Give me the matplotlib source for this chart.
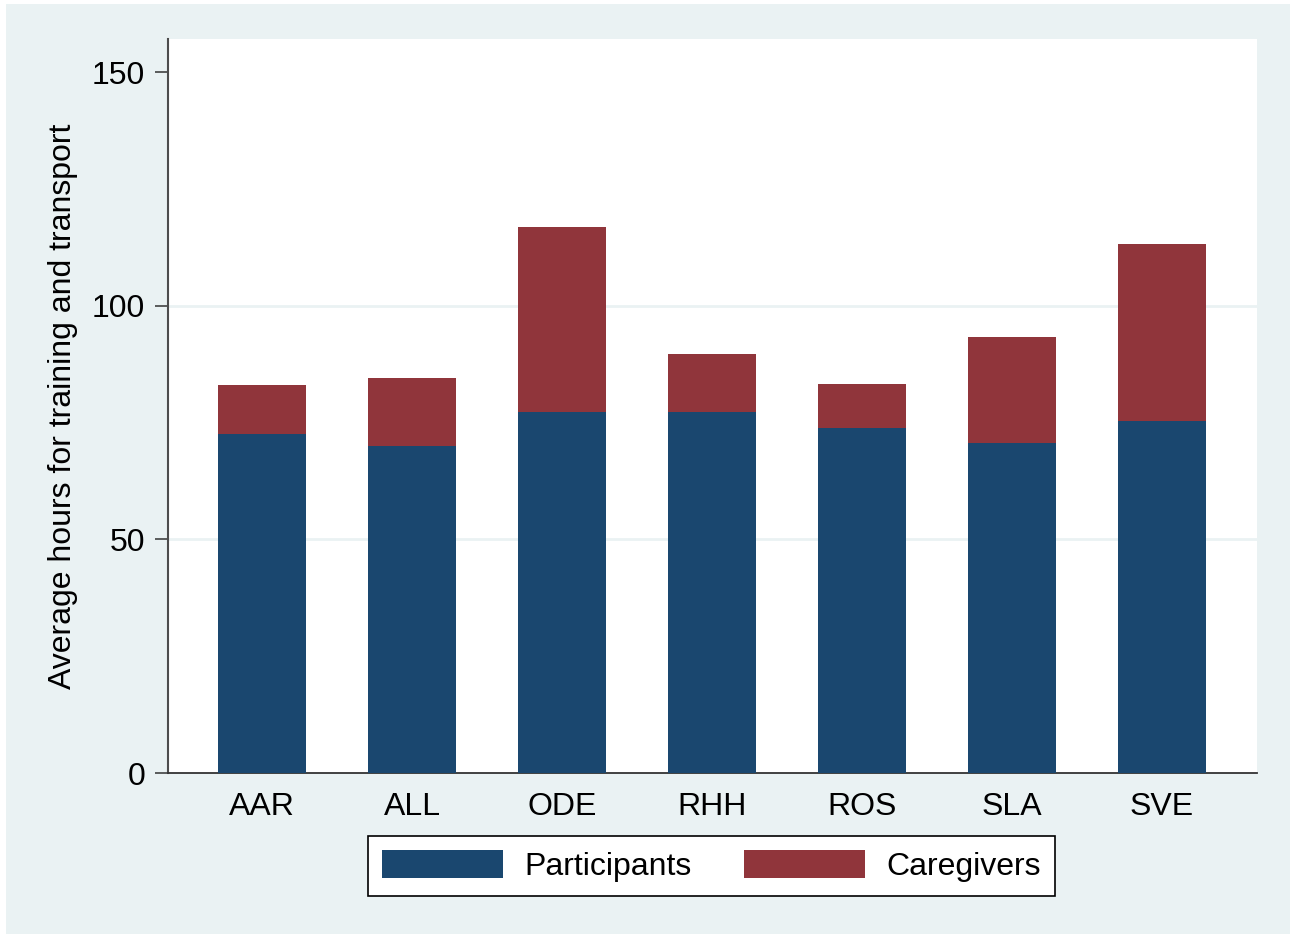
import matplotlib.pyplot as plt
from matplotlib.patches import Rectangle

plt.rcParams['font.family'] = ['Liberation Sans', 'DejaVu Sans']

# data
sites = ["AAR", "ALL", "ODE", "RHH", "ROS", "SLA", "SVE"]
participants = [72.5, 70.0, 77.3, 77.3, 73.8, 70.6, 75.3]
caregivers_total = [83.0, 84.5, 116.8, 89.7, 83.2, 93.3, 113.2]
caregivers = [t - p for t, p in zip(caregivers_total, participants)]
yticks = [0, 50, 100, 150]
gridlines = [50, 100]

navy = "#1a476f"
maroon = "#90353b"
bg = "#eaf2f3"

W, H = 1292, 938
fig = plt.figure(figsize=(W / 100, H / 100), dpi=100, facecolor="white")
# stata-like outer panel, kept behind the axes
fig.patches.append(Rectangle((6 / W, 4 / H), (1290 - 6) / W, (934 - 4) / H,
                             transform=fig.transFigure, facecolor=bg,
                             edgecolor="none", zorder=-10))

ax = fig.add_axes([168 / W, (H - 773) / H, (1257 - 168) / W, (773 - 39) / H])
ax.set_facecolor("white")

for g in gridlines:
    ax.axhline(g, color=bg, linewidth=2, zorder=1)

x = range(len(sites))
ax.bar(x, participants, width=0.59, color=navy, label="Participants", zorder=3)
ax.bar(x, caregivers, width=0.59, bottom=participants, color=maroon,
       label="Caregivers", zorder=3)

ax.set_xlim(-0.627, 6.633)
ax.set_ylim(0, 157.1)
ax.set_yticks(yticks)
ax.set_xticks(list(x))
ax.set_xticklabels(sites)

for s in ["top", "right"]:
    ax.spines[s].set_visible(False)
ax.spines["left"].set_color("#4d4d4d")
ax.spines["left"].set_linewidth(1.5)
ax.spines["bottom"].set_color("#333333")
ax.spines["bottom"].set_linewidth(1.3)

ax.tick_params(axis="y", length=9.5, width=1.1, color="#333333", pad=7,
               labelsize=23)
ax.tick_params(axis="x", length=0, pad=14, labelsize=23)

ax.set_ylabel("Average hours for training and transport", fontsize=23,
              labelpad=10)

leg = fig.legend(loc="center", bbox_to_anchor=(711.5 / W, (H - 866) / H),
                 ncol=2, fontsize=23, frameon=True, fancybox=False,
                 handlelength=3.78, handleheight=0.94, handletextpad=0.66,
                 columnspacing=1.66, borderpad=0.45, edgecolor="black",
                 facecolor="white", framealpha=1)
leg.get_frame().set_linewidth(1.2)

fig.savefig("out.png", dpi=100, facecolor=fig.get_facecolor())
